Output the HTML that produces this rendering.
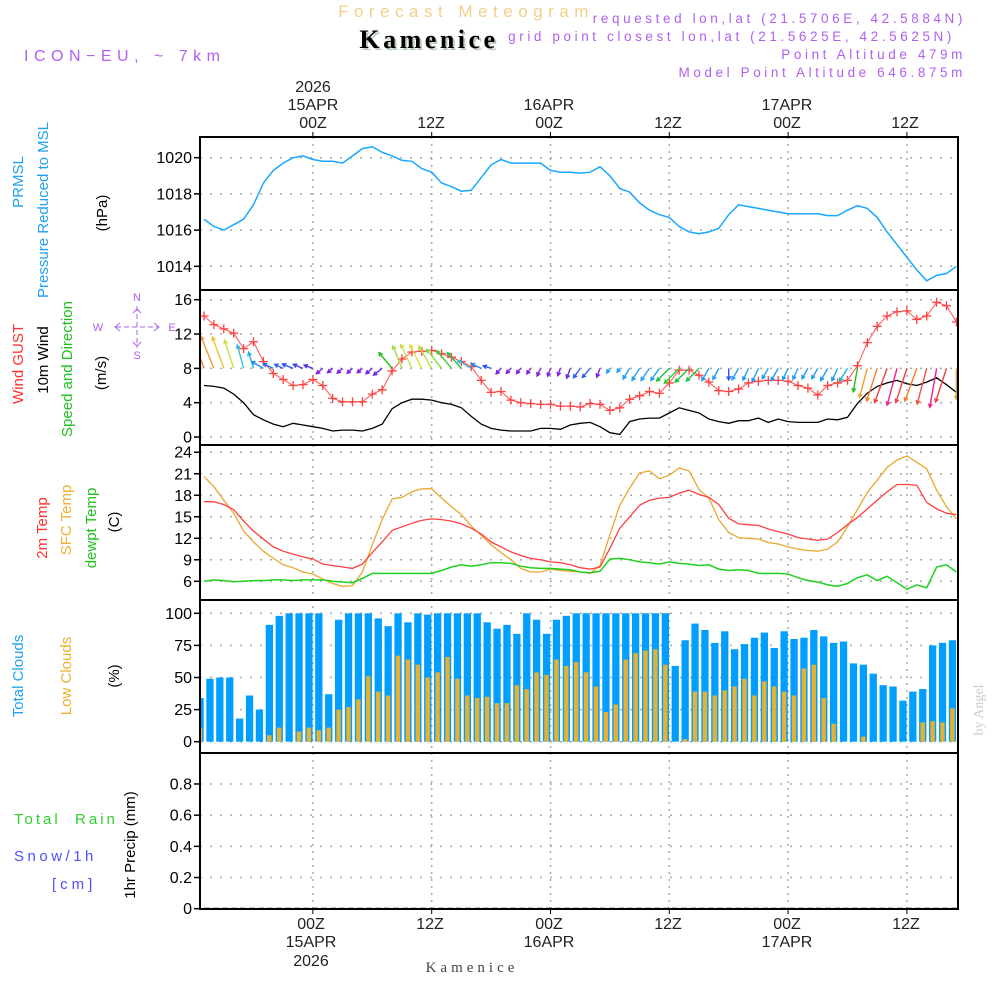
<!DOCTYPE html>
<html><head><meta charset="utf-8"><style>
body{margin:0;background:#fff}
svg{display:block;font-family:"Liberation Sans",sans-serif}
</style></head><body>
<svg id="chart" width="1000" height="1000" viewBox="0 0 1000 1000" xmlns="http://www.w3.org/2000/svg">
<rect width="1000" height="1000" fill="#fff"/>
<g id="grid"></g>
<g id="marks"></g>
<g id="frame"></g>
<g id="labels">
<text x="466" y="17" text-anchor="middle" font-size="17" fill="#f3cf8a" letter-spacing="5.5">Forecast Meteogram</text>
<text x="431" y="50" text-anchor="middle" font-size="26" font-weight="bold" font-family="Liberation Serif,serif" fill="#b8ccb8" letter-spacing="3.5">Kamenice</text>
<text x="429" y="48" text-anchor="middle" font-size="26" font-weight="bold" font-family="Liberation Serif,serif" fill="#000" letter-spacing="3.5">Kamenice</text>
<text x="24" y="61" font-size="16" fill="#b060f0" letter-spacing="5.5">ICON−EU, ~ 7km</text>
<g font-size="13.5" fill="#b060f0" text-anchor="end" letter-spacing="3.6">
<text x="966" y="23">requested lon,lat (21.5706E, 42.5884N)</text>
<text x="955" y="41">grid point closest lon,lat (21.5625E, 42.5625N)</text>
<text x="966" y="59">Point Altitude 479m</text>
<text x="966" y="77">Model Point Altitude 646.875m</text>
</g>
<g font-size="16" fill="#222" text-anchor="middle">
<text x="313" y="92">2026</text><text x="313" y="110">15APR</text><text x="313" y="128">00Z</text>
<text x="431" y="128">12Z</text>
<text x="549" y="110">16APR</text><text x="549" y="128">00Z</text>
<text x="668" y="128">12Z</text>
<text x="787" y="110">17APR</text><text x="787" y="128">00Z</text>
<text x="905" y="128">12Z</text>
</g>
<g font-size="16" fill="#222" text-anchor="middle">
<text x="311" y="929">00Z</text><text x="311" y="947">15APR</text><text x="311" y="966">2026</text>
<text x="430" y="929">12Z</text>
<text x="549" y="929">00Z</text><text x="549" y="947">16APR</text>
<text x="668" y="929">12Z</text>
<text x="787" y="929">00Z</text><text x="787" y="947">17APR</text>
<text x="906" y="929">12Z</text>
</g>
<text x="472" y="972" text-anchor="middle" font-size="15" font-family="Liberation Serif,serif" fill="#444" letter-spacing="4">Kamenice</text>
<text transform="translate(983,710) rotate(-90)" text-anchor="middle" font-size="14" font-family="Liberation Serif,serif" fill="#ccc">by Angel</text>
<g font-size="15" text-anchor="middle">
<text transform="translate(23,182) rotate(-90)" fill="#20a0f0">PRMSL</text>
<text transform="translate(48,210) rotate(-90)" fill="#20a0f0">Pressure Reduced to MSL</text>
<text transform="translate(107,213) rotate(-90)" fill="#000">(hPa)</text>
</g>
<g font-size="15" text-anchor="middle">
<text transform="translate(23,364) rotate(-90)" fill="#ff3030">Wind GUST</text>
<text transform="translate(48,360) rotate(-90)" fill="#000">10m Wind</text>
<text transform="translate(72,369) rotate(-90)" fill="#20c020">Speed and Direction</text>
<text transform="translate(106,373) rotate(-90)" fill="#000">(m/s)</text>
</g>
<g fill="#b060f0" stroke="#b060f0" font-size="11" text-anchor="middle">
<text x="137" y="301" stroke="none">N</text><text x="137" y="359" stroke="none">S</text>
<text x="98" y="331" stroke="none">W</text><text x="172" y="331" stroke="none">E</text>
<line x1="137" y1="306" x2="137" y2="348" stroke-dasharray="5,3"/>
<line x1="116" y1="327" x2="158" y2="327" stroke-dasharray="5,3"/>
<polyline points="133,313 137,309 141,313" fill="none"/>
<polyline points="133,342 137,346 141,342" fill="none"/>
<polyline points="120,323 115,327 120,331" fill="none"/>
<polyline points="154,323 159,327 154,331" fill="none"/>
</g>
<g font-size="15" text-anchor="middle">
<text transform="translate(47,528) rotate(-90)" fill="#ff3030">2m Temp</text>
<text transform="translate(71,520) rotate(-90)" fill="#f0b030">SFC Temp</text>
<text transform="translate(96,528) rotate(-90)" fill="#20c020">dewpt Temp</text>
<text transform="translate(119,522) rotate(-90)" fill="#000">(C)</text>
</g>
<g font-size="15" text-anchor="middle">
<text transform="translate(23,676) rotate(-90)" fill="#20a0f0">Total Clouds</text>
<text transform="translate(71,676) rotate(-90)" fill="#f0b030">Low Clouds</text>
<text transform="translate(119,676) rotate(-90)" fill="#000">(%)</text>
</g>
<g font-size="15" letter-spacing="3">
<text x="14" y="824" fill="#30d030" xml:space="preserve">Total  Rain</text>
<text x="14" y="861" fill="#5050ff" letter-spacing="3.5">Snow/1h</text>
<text x="52" y="889" fill="#5050ff" letter-spacing="4">[cm]</text>
<text transform="translate(135,845) rotate(-90)" text-anchor="middle" fill="#000" letter-spacing="0">1hr Precip (mm)</text>
</g>
</g>
</svg>
<script>
// ---- data (hourly, k=0 is 13Z 14APR) ----
const pressure = [1016.6,1016.2,1016.0,1016.3,1016.6,1017.4,1018.6,1019.3,1019.7,1020.0,1020.1,1019.9,1019.8,1019.8,1019.7,1020.1,1020.5,1020.6,1020.3,1020.1,1019.85,1019.8,1019.4,1019.2,1018.6,1018.4,1018.15,1018.2,1018.9,1019.6,1019.9,1019.7,1019.7,1019.7,1019.7,1019.3,1019.2,1019.2,1019.15,1019.2,1019.5,1019.0,1018.3,1018.1,1017.5,1017.1,1016.85,1016.7,1016.2,1015.9,1015.8,1015.9,1016.1,1016.85,1017.4,1017.3,1017.2,1017.1,1017.0,1016.9,1016.9,1016.9,1016.9,1016.8,1016.8,1017.1,1017.35,1017.2,1016.7,1015.9,1015.2,1014.5,1013.8,1013.2,1013.5,1013.6,1014.0];
const gust = [14.1,13.1,12.6,12.1,10.3,11.1,8.8,7.4,6.7,6.0,6.1,6.7,6.0,4.5,4.1,4.1,4.1,5.0,5.5,7.7,9.1,9.9,10.0,10.1,9.7,9.3,8.8,8.2,6.6,5.2,5.3,4.3,4.0,3.9,3.8,3.8,3.6,3.6,3.5,3.9,3.8,3.1,3.4,4.4,4.8,5.3,5.1,6.3,7.8,7.8,7.2,6.4,5.4,5.3,5.6,6.3,6.5,6.6,6.6,6.5,6.0,5.7,4.9,6.0,6.3,6.6,8.3,11.0,12.9,14.1,14.6,14.7,13.7,14.1,15.7,15.3,13.4];
const wind10 = [6.0,5.9,5.7,5.0,4.0,2.6,2.0,1.5,1.2,1.6,1.4,1.2,1.0,0.7,0.8,0.8,0.7,1.0,1.5,3.3,4.0,4.4,4.4,4.3,4.0,3.8,3.4,2.4,1.5,1.0,0.8,0.7,0.7,0.7,1.0,1.0,0.9,1.4,1.6,1.7,1.2,0.5,0.3,1.8,2.1,2.2,2.2,2.8,3.4,3.1,2.8,2.1,1.8,1.6,1.9,1.9,2.2,1.7,2.1,1.8,1.7,1.7,1.7,2.1,2.0,2.3,3.9,5.1,5.9,6.3,6.6,6.2,6.0,6.4,6.9,6.1,5.2];
const windDir = [340,338,340,342,345,343,300,295,295,292,292,290,230,230,228,228,230,230,232,320,338,335,333,330,322,320,318,300,295,288,222,222,220,215,205,200,200,200,215,220,200,215,215,212,212,215,215,225,225,225,225,210,208,180,210,205,205,210,210,205,205,210,210,210,205,212,190,195,198,200,195,198,200,195,190,198,180];
const windColor = ["#f07830","#f09a30","#e8c830","#c8e040","#30c0e0","#20b0f0","#2090f0","#3070f0","#3060f0","#3050f0","#4040e0","#5030e0","#8020e0","#8020e0","#8020e0","#8020e0","#8020e0","#8020e0","#6030e0","#20c020","#a0e040","#c8e040","#e0e040","#c0e040","#80e040","#40d040","#30c050","#40c0e0","#3080f0","#3050f0","#8020e0","#8020e0","#8020e0","#8020e0","#8020e0","#8020e0","#8020e0","#6030e0","#3060f0","#3060f0","#8020e0","#20a0f0","#20a0f0","#20a0f0","#20a0f0","#20a0f0","#20a0f0","#20c040","#30d030","#20c040","#20c040","#20a0f0","#20a0f0","#3050f0","#20a0f0","#20a0f0","#20a0f0","#20a0f0","#20a0f0","#20a0f0","#20a0f0","#20a0f0","#20a0f0","#20a0f0","#20a0f0","#20b0d0","#20c020","#f0a030","#f08030","#f04040","#f02090","#f04040","#f08030","#f05040","#f02090","#f04040","#e0a030"];
const temp2m = [17.1,17.1,16.7,16.0,14.4,13.0,11.9,10.8,10.2,9.8,9.4,9.1,8.4,8.2,8.0,7.8,8.4,10.0,11.5,13.1,13.6,14.1,14.5,14.7,14.6,14.4,14.0,13.4,12.6,11.5,10.8,10.1,9.6,9.2,9.0,8.7,8.6,8.3,7.9,7.7,8.0,10.6,13.4,15.0,16.6,17.3,17.6,17.7,18.3,18.7,18.1,17.7,16.7,14.8,14.0,13.9,13.8,13.3,12.9,12.6,12.1,11.9,11.7,11.9,12.8,13.9,14.9,16.1,17.3,18.5,19.5,19.5,19.4,17.0,16.1,15.5,15.3];
const tempSfc = [20.6,19.2,17.3,15.5,13.0,11.5,10.2,9.2,8.3,7.9,7.3,7.0,6.3,5.7,5.3,5.4,7.3,11.1,14.6,17.5,17.7,18.5,18.9,18.9,17.6,16.4,15.3,13.7,12.4,11.1,10.0,9.0,7.8,7.3,7.3,7.7,7.5,7.4,7.3,7.1,8.2,12.5,16.6,19.0,21.1,21.4,20.3,20.8,21.8,21.4,18.8,17.6,14.6,12.8,12.1,12.0,11.9,11.4,11.2,10.8,10.5,10.3,10.2,10.5,11.5,13.6,16.0,18.4,20.1,21.9,22.9,23.5,22.6,21.7,18.7,16.4,14.7];
const dewpt = [6.0,6.2,6.1,5.95,6.0,6.1,6.1,6.2,6.2,6.1,6.2,6.2,6.2,6.0,5.9,5.8,6.4,7.1,7.1,7.1,7.1,7.1,7.1,7.1,7.5,8.0,8.3,8.1,8.3,8.6,8.6,8.5,8.1,7.9,7.8,7.8,7.7,7.6,7.3,7.2,7.4,9.1,9.2,9.0,8.7,8.6,8.4,8.7,8.5,8.4,8.2,8.3,7.7,7.5,7.6,7.5,7.1,7.1,7.1,7.0,6.5,6.1,5.9,5.5,5.3,5.7,6.5,6.9,6.1,6.7,5.8,4.9,5.5,5.1,8.0,8.3,7.3];
const totalClouds = [34,49,50,50,18,36,25,91,98,100,100,100,100,37,95,100,100,100,96,90,100,93,100,99,100,100,100,100,100,93,88,91,84,100,95,84,95,98,100,100,100,100,100,100,100,100,100,100,59,79,92,87,77,86,72,76,81,85,73,86,80,81,87,82,77,78,61,60,53,44,43,32,39,41,75,77,79];
const lowClouds = [11,0,0,0,0,0,0,5,11,0,8,11,9,11,25,27,33,51,39,36,67,64,60,50,54,66,49,36,34,35,30,30,44,41,54,52,64,59,62,54,43,23,29,64,69,71,72,60,0,2,39,39,36,40,43,49,36,47,43,39,36,57,60,34,14,0,0,4,0,0,0,0,0,15,16,15,26];
const precip = new Array(77).fill(0);
const pTicks = [1014,1016,1018,1020];
const wTicks = [0,4,8,12,16];
const tTicks = [6,9,12,15,18,21,24];
const cTicks = [0,25,50,75,100];
const rTicks = [0,0.2,0.4,0.6,0.8];
const rTickLabels = ["0","0.2","0.4","0.6","0.8"];
const timeGridHours = [11,23,35,47,59,71];

// ---- scales ----
const X0=200, X1=958;
const xK = k => 204 + 9.9*k;
const yP = v => 157.7 + (1020-v)*18.1;
const yW = v => 437 - v*8.58;
const yT = v => 581.3 - (v-6)*7.17;
const yC = v => 741.7 - v*1.284;
const yR = v => 908.7 - v*155.9;
const panels = [[137,290],[290,445],[445,600],[600,753],[753,909]];

const NS="http://www.w3.org/2000/svg";
function mk(tag, attrs, parent){const e=document.createElementNS(NS,tag);for(const a in attrs)e.setAttribute(a,attrs[a]);parent.appendChild(e);return e;}
const grid=document.getElementById('grid'), marks=document.getElementById('marks'), frame=document.getElementById('frame');

const defs=mk('defs',{},marks);
const cp=mk('clipPath',{id:'plotclip'},defs);
mk('rect',{x:X0,y:137,width:X1-X0,height:772},cp);
const mg=mk('g',{'clip-path':'url(#plotclip)'},marks);

timeGridHours.forEach(h=>{
  const l=mk('line',{x1:xK(h),x2:xK(h),y1:137,y2:909,stroke:'#aaa','stroke-dasharray':'2,5','stroke-width':1.5},grid);
  
  
  const t1=mk('line',{x1:xK(h),x2:xK(h),y1:132,y2:137,stroke:'#000'},grid);
  
  
  const t2=mk('line',{x1:xK(h),x2:xK(h),y1:909,y2:914,stroke:'#000'},grid);
  
  
});
function yaxis(ticks, f, labels){
  ticks.forEach((v,i)=>{
    const y=f(v);
    const l=mk('line',{x1:X0,x2:X1,y1:y,y2:y,stroke:'#aaa','stroke-dasharray':'2,8','stroke-width':1.5},grid);
    
    
    mk('line',{x1:X0-6,x2:X0,y1:y,y2:y,stroke:'#000','stroke-width':1.5},grid);
    const t=mk('text',{x:X0-8,y:y+5.5,'text-anchor':'end','font-size':16,fill:'#000'},grid);
    t.textContent = labels? labels[i] : String(v);
    
    
  });
}
yaxis(pTicks,yP); yaxis(wTicks,yW); yaxis(tTicks,yT); yaxis(cTicks,yC); yaxis(rTicks,yR,rTickLabels);

totalClouds.forEach((v,k)=>{
  const r=mk('rect',{x:xK(k)-4-3.6,y:yC(v),width:7.3,height:yC(0)-yC(v),fill:'#009fff'},mg);
  
  
});
lowClouds.forEach((v,k)=>{
  if(v<=0) return;
  const r=mk('rect',{x:xK(k)-4-2.2,y:yC(v),width:4.4,height:yC(0)-yC(v),fill:'#e8b030'},mg);
  
  
});

function line(arr,f,color,name,w){
  const p=mk('polyline',{points:arr.map((v,k)=>xK(k).toFixed(1)+','+f(v).toFixed(1)).join(' '),fill:'none',stroke:color,'stroke-width':w||1.3},mg);
  
  
  return p;
}
line(pressure,yP,'#18a8ff','pressure-line',1.5);
line(wind10,yW,'#000','wind-10m-line',1.3);
line(gust,yW,'#ff5050','gust-line',1);
gust.forEach((v,k)=>{
  const x=xK(k), y=yW(v);
  const g=mk('path',{d:`M${x-4.5},${y}H${x+4.5}M${x},${y-4.5}V${y+4.5}`,stroke:'#ff4040','stroke-width':1.3},mg);
  
  
});
windDir.forEach((d,k)=>{
  const len=3+5.3*wind10[k];
  const a=d*Math.PI/180;
  const x0=xK(k), y0=yW(8);
  const dx=Math.sin(a), dy=-Math.cos(a);
  const x1=x0+dx*len, y1=y0+dy*len;
  const h=4, s=0.5;
  const bx=-dx, by=-dy;
  const ax1=x1+h*(bx*Math.cos(s)-by*Math.sin(s)), ay1=y1+h*(bx*Math.sin(s)+by*Math.cos(s));
  const ax2=x1+h*(bx*Math.cos(-s)-by*Math.sin(-s)), ay2=y1+h*(bx*Math.sin(-s)+by*Math.cos(-s));
  const p=mk('path',{d:`M${x0},${y0}L${x1},${y1}M${ax1},${ay1}L${x1},${y1}L${ax2},${ay2}`,stroke:windColor[k],'stroke-width':1.4,fill:'none'},mg);
  
  
});
line(tempSfc,yT,'#e8a830','sfc-temp-line',1.3);
line(temp2m,yT,'#ff4040','temp-2m-line',1.3);
line(dewpt,yT,'#20d020','dewpoint-line',1.5);
const pl=line(precip,yR,'#000','precip-line',2);
pl.setAttribute('stroke-dasharray','6,3');

panels.forEach(([a,b])=>{
  const r=mk('rect',{x:X0,y:a,width:X1-X0,height:b-a,fill:'none',stroke:'#000','stroke-width':2},frame);
  
  
});
</script>
</body></html>
